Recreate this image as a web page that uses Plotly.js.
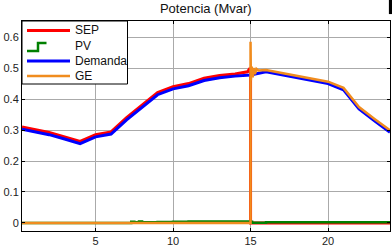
<!DOCTYPE html>
<html>
<head>
<meta charset="utf-8">
<script src="https://cdn.plot.ly/plotly-3.0.1.min.js"></script>
<style>html,body{margin:0;padding:0;background:#fff;}#chart{width:392px;height:251px;}</style>
</head>
<body>
<div id="chart"></div>
<script>
// Hours
const hoursDem = [0.25,1,2,3,4,5,6,7,8,9,10,11,12,13,14,15,16,17,18,19,20,21,22,23,24];
const demanda  = [0.303,0.295,0.285,0.271,0.256,0.278,0.287,0.333,0.375,0.414,0.433,0.443,0.460,0.469,0.474,0.478,0.488,0.478,0.469,0.460,0.450,0.430,0.368,0.330,0.293];

const hoursSEP = [0.25,1,2,3,4,5,6,7,8,9,10,11,12,13,14,14.8,14.9,15,15,24];
const sep      = [0.310,0.302,0.292,0.278,0.263,0.285,0.294,0.340,0.382,0.421,0.440,0.450,0.467,0.476,0.481,0.488,0.495,0.485,0,0];

const hoursPV = [0.25,7,7.3,7.5,7.8,8,9,10,11,12,13,14,15,15.1,16,24];
const pv      = [0,0,0.004,0.002,0.005,0.002,0.003,0.004,0.005,0.005,0.005,0.005,0.004,0.001,0.002,0.002];

const hoursGE = [0.25,15,15,15.02,15.08,15.14,15.2,15.28,15.38,15.5,16,17,18,19,20,21,22,23,24];
const ge      = [0,0,0.585,0.46,0.505,0.47,0.50,0.48,0.497,0.492,0.494,0.484,0.475,0.466,0.456,0.436,0.374,0.336,0.299];

const names = ['SEP','PV','Demanda','GE'];
const colors = ['#ff0000','#008000','#0000ff','#f08c1e'];
const widths = [3, 2.5, 3, 2.5];

const traces = [
  {x: hoursSEP, y: sep, name: names[0], mode: 'lines', line: {color: colors[0], width: widths[0]}},
  {x: hoursPV, y: pv, name: names[1], mode: 'lines', line: {color: colors[1], width: widths[1], shape: 'hv'}},
  {x: hoursDem, y: demanda, name: names[2], mode: 'lines', line: {color: colors[2], width: widths[2]}},
  {x: hoursGE, y: ge, name: names[3], mode: 'lines', line: {color: colors[3], width: widths[3]}}
];

const fam = 'Liberation Sans, Arial, sans-serif';
const font = {family: fam, size: 11, color: '#222'};

// Plot area in pixels, for converting the hand-drawn legend box
const PL = 22, PR = 390, PT = 21, PB = 231;
const px = v => (v - PL) / (PR - PL);
const py = v => (PB - v) / (PB - PT);

const shapes = [
  {type: 'rect', xref: 'paper', yref: 'paper', x0: 0.997, x1: 1.006, y0: 1.033, y1: 1.1, fillcolor: '#000', line: {width: 0}},
  {type: 'rect', xref: 'paper', yref: 'paper', x0: px(22), x1: px(127.5), y0: py(84), y1: py(21), fillcolor: '#fff', line: {color: '#000', width: 1}}
];
const annotations = [];
const rowsY = [30.5, 45.5, 61, 76];
names.forEach((n, i) => {
  if (i === 1) {
    shapes.push({type: 'path', xref: 'paper', yref: 'paper',
      path: `M ${px(27)} ${py(51)} L ${px(38)} ${py(51)} L ${px(38)} ${py(43)} L ${px(46.5)} ${py(43)}`,
      line: {color: colors[i], width: widths[i]}});
  } else {
    shapes.push({type: 'line', xref: 'paper', yref: 'paper', x0: px(27), x1: px(70), y0: py(rowsY[i]), y1: py(rowsY[i]),
      line: {color: colors[i], width: widths[i]}});
  }
  annotations.push({xref: 'paper', yref: 'paper', x: px(72.5), y: py(rowsY[i]), xanchor: 'left', yanchor: 'middle',
    text: n, showarrow: false, font: {family: fam, size: 12, color: '#111'}});
});

const layout = {
  width: 392, height: 251,
  margin: {l: 22, r: 2, t: 21, b: 20, pad: 0},
  paper_bgcolor: '#fff', plot_bgcolor: '#fff',
  font: font,
  title: {text: 'Potencia (Mvar)', font: {family: fam, size: 13, color: '#111'}, x: 0.525, xanchor: 'center', y: 0.985, yanchor: 'top'},
  showlegend: false,
  xaxis: {range: [0.25, 24], tickvals: [5,10,15,20], ticktext: ['5','10','15','20'],
          showgrid: true, gridcolor: '#aaa', gridwidth: 1, zeroline: false,
          showline: true, linecolor: '#000', linewidth: 1, mirror: 'ticks',
          ticks: 'inside', ticklen: 3, tickcolor: '#000', tickfont: font},
  yaxis: {range: [-0.026, 0.652], tickvals: [0,0.1,0.2,0.3,0.4,0.5,0.6], ticktext: ['0','0.1','0.2','0.3','0.4','0.5','0.6'],
          showgrid: true, gridcolor: '#aaa', gridwidth: 1, zeroline: false,
          showline: true, linecolor: '#000', linewidth: 1, mirror: 'ticks',
          ticks: 'inside', ticklen: 3, tickcolor: '#000', tickfont: font},
  shapes: shapes,
  annotations: annotations
};

Plotly.newPlot('chart', traces, layout, {staticPlot: true, displayModeBar: false});
</script>
</body>
</html>
